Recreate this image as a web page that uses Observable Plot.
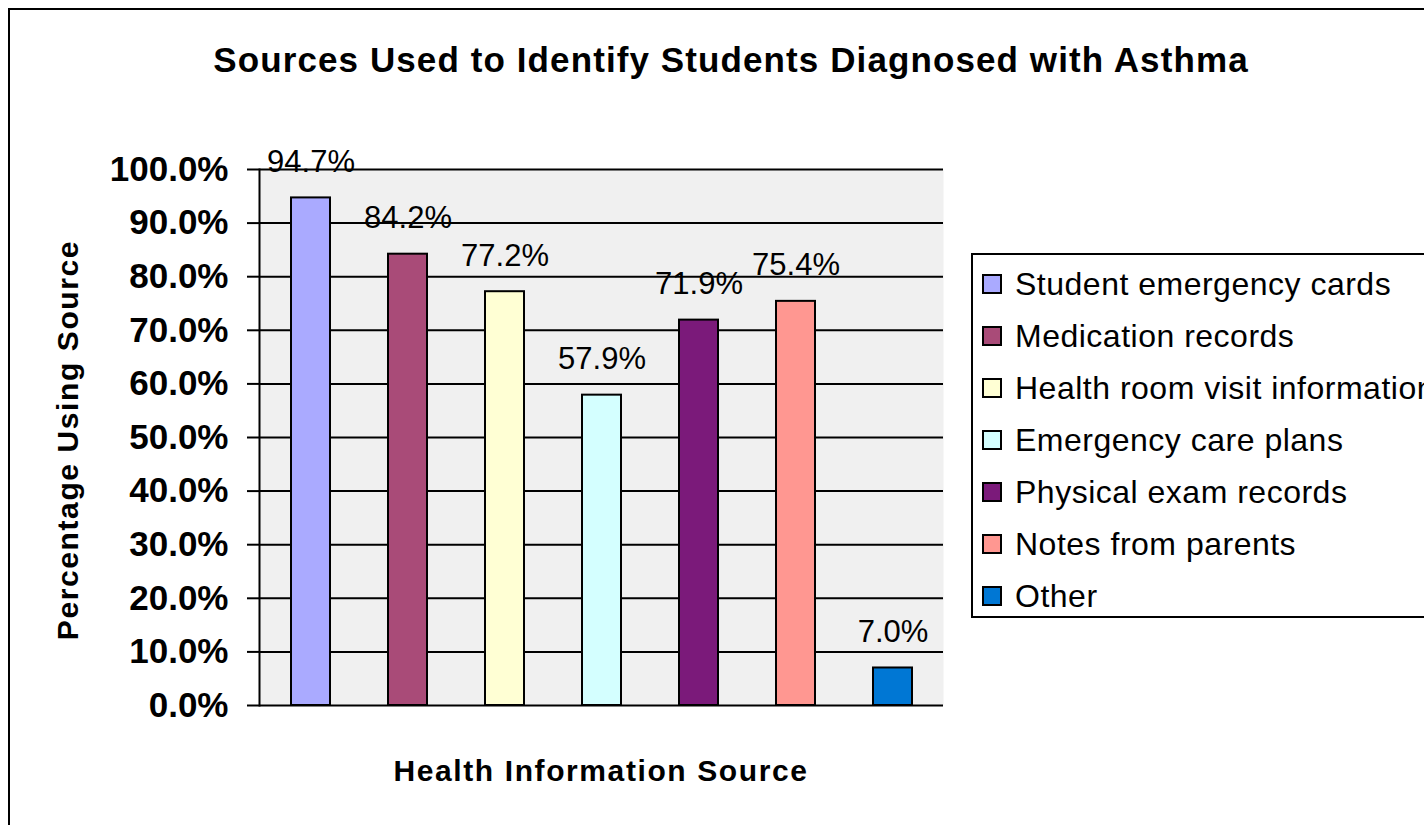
<!DOCTYPE html>
<html>
<head>
<meta charset="utf-8">
<script src="https://cdn.jsdelivr.net/npm/d3@7"></script>
<script src="https://cdn.jsdelivr.net/npm/@observablehq/plot@0.6"></script>
<style>
  html, body { margin: 0; padding: 0; background: #fff; overflow: hidden; }
  body { width: 1424px; height: 825px; position: relative; font-family: "Liberation Sans", Arial, Helvetica, sans-serif; }
  #border { position: absolute; left: 8px; top: 8px; width: 1500px; height: 900px; border: 2px solid #000; box-sizing: border-box; }
  #chart { position: absolute; left: 0; top: 0; }
  #title { position: absolute; left: 0; width: 1462px; top: 40px; text-align: center; font-size: 35px; font-weight: bold; letter-spacing: 1.1px; color: #000; white-space: nowrap; }
  #ytitle { position: absolute; left: 68px; top: 440px; transform: translate(-50%, -50%) rotate(-90deg); font-size: 30px; font-weight: bold; letter-spacing: 1.6px; white-space: nowrap; }
  #xtitle { position: absolute; left: 601px; top: 771px; transform: translate(-50%, -50%); font-size: 30px; font-weight: bold; letter-spacing: 1.6px; white-space: nowrap; }
  #legend { position: absolute; left: 971px; top: 253px; width: 520px; height: 365px; border: 2px solid #000; box-sizing: border-box; background: #fff; padding-top: 3px; }
  .row { height: 52px; display: flex; align-items: center; }
  .sw { width: 20px; height: 20px; border: 2px solid #000; box-sizing: border-box; margin-left: 9px; margin-right: 13px; flex: none; }
  .lt { font-size: 32px; letter-spacing: 0.5px; white-space: nowrap; color: #000; }
  #chart svg g[aria-label="y-axis tick label"] text { font-weight: bold; }
</style>
</head>
<body>
<div id="border"></div>
<div id="chart"></div>
<div id="title">Sources Used to Identify Students Diagnosed with Asthma</div>
<div id="ytitle">Percentage Using Source</div>
<div id="xtitle">Health Information Source</div>
<div id="legend"></div>
<script>
const categories = [
  "Student emergency cards",
  "Medication records",
  "Health room visit information",
  "Emergency care plans",
  "Physical exam records",
  "Notes from parents",
  "Other"
];
const values = [0.947, 0.842, 0.772, 0.579, 0.719, 0.754, 0.070];
const colors = ["#aaaaff", "#a94b78", "#ffffd4", "#d4ffff", "#7b1a7a", "#ff9791", "#0077d4"];
const yTicks = [0, 0.1, 0.2, 0.3, 0.4, 0.5, 0.6, 0.7, 0.8, 0.9, 1.0];

const data = categories.map((c, i) => ({category: c, value: values[i]}));
const pct = d3.format(".1%");

const plot = Plot.plot({
  width: 1424,
  height: 825,
  marginLeft: 259,
  marginRight: 481,
  marginTop: 169,
  marginBottom: 120,
  style: {background: "transparent", fontFamily: "'Liberation Sans', Arial, sans-serif", color: "#000"},
  x: {domain: categories, paddingInner: 0.6, paddingOuter: 0.3, axis: null},
  y: {domain: [0, 1], axis: null},
  color: {domain: categories, range: colors},
  marks: [
    Plot.frame({fill: "#f0f0f0", stroke: null}),
    Plot.ruleY(yTicks, {y: d => d, stroke: "#000", strokeWidth: 2}),
    Plot.axisY({ticks: yTicks, tickFormat: pct, tickSize: 12, tickPadding: 19, fontSize: 35, fontWeight: "bold", stroke: "#000", strokeWidth: 2, label: null}),
    Plot.frame({anchor: "left", stroke: "#000", strokeWidth: 2}),
    Plot.barY(data, {x: "category", y: "value", fill: "category", stroke: "#000", strokeWidth: 2}),
    Plot.text(data, {x: "category", y: "value", text: d => pct(d.value), lineAnchor: "bottom", dy: -26, fontSize: 31, fill: "#000"})
  ]
});
document.getElementById("chart").appendChild(plot);

const color = plot.scale("color");
const legend = d3.select("#legend");
categories.forEach(c => {
  const row = legend.append("div").attr("class", "row");
  row.append("div").attr("class", "sw").style("background", color.apply(c));
  row.append("div").attr("class", "lt").text(c);
});
</script>
</body>
</html>
